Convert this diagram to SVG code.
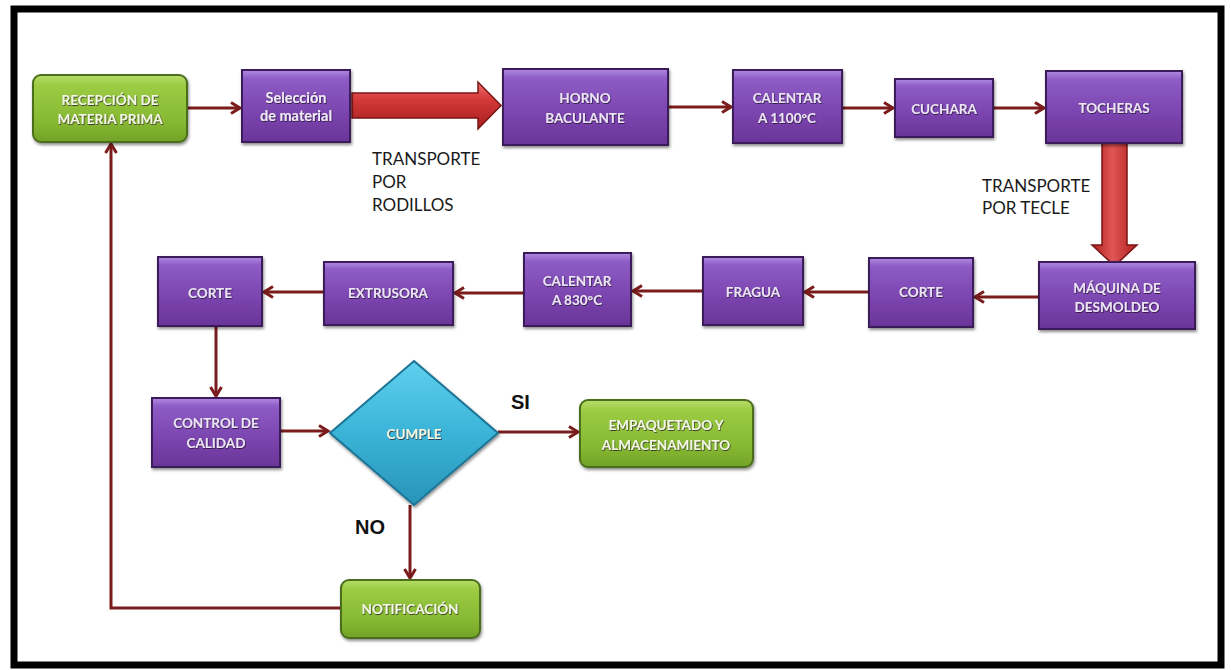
<svg xmlns="http://www.w3.org/2000/svg" width="1231" height="670" viewBox="0 0 1231 670">
<defs>
  <linearGradient id="gPurple" x1="0" y1="0" x2="0" y2="1">
    <stop offset="0" stop-color="#b08ae0"/>
    <stop offset="0.12" stop-color="#8e5cc6"/>
    <stop offset="0.6" stop-color="#7a44ae"/>
    <stop offset="1" stop-color="#6a3598"/>
  </linearGradient>
  <linearGradient id="gGreen" x1="0" y1="0" x2="0" y2="1">
    <stop offset="0" stop-color="#b8dc6a"/>
    <stop offset="0.15" stop-color="#9ccc44"/>
    <stop offset="0.7" stop-color="#86b832"/>
    <stop offset="1" stop-color="#72a228"/>
  </linearGradient>
  <linearGradient id="gCyan" x1="0" y1="0" x2="0" y2="1">
    <stop offset="0" stop-color="#5fd0ee"/>
    <stop offset="0.5" stop-color="#3ab4d8"/>
    <stop offset="1" stop-color="#2894b8"/>
  </linearGradient>
  <linearGradient id="gRedH" x1="0" y1="0" x2="0" y2="1">
    <stop offset="0" stop-color="#ee7070"/>
    <stop offset="0.35" stop-color="#d63a3a"/>
    <stop offset="1" stop-color="#a81e1e"/>
  </linearGradient>
  <linearGradient id="gRedV" x1="0" y1="0" x2="1" y2="0">
    <stop offset="0" stop-color="#b02020"/>
    <stop offset="0.45" stop-color="#e05555"/>
    <stop offset="1" stop-color="#b02020"/>
  </linearGradient>
  <filter id="sh" x="-10%" y="-10%" width="125%" height="130%">
    <feDropShadow dx="1" dy="2" stdDeviation="1.5" flood-color="#000" flood-opacity="0.45"/>
  </filter>
  <filter id="ts" x="-5%" y="-20%" width="110%" height="140%">
    <feDropShadow dx="0.6" dy="0.8" stdDeviation="0.4" flood-color="#1a0a2a" flood-opacity="0.9"/>
  </filter>
  <marker id="arr" markerWidth="14" markerHeight="14" refX="11" refY="7" orient="auto" markerUnits="userSpaceOnUse">
    <path d="M2,1.5 L11,7 L2,12.5" fill="none" stroke="#7a1c1c" stroke-width="3" stroke-linejoin="miter"/>
  </marker>
</defs>
<style>
  .p { fill: url(#gPurple); stroke: #3a1d58; stroke-width: 2; filter: url(#sh); }
  .g { fill: url(#gGreen); stroke: #4c6e1c; stroke-width: 2; filter: url(#sh); }
  .d { fill: url(#gCyan); stroke: #1c7494; stroke-width: 2; filter: url(#sh); }
  .t { font-family: Lato, "Liberation Sans", sans-serif; font-weight: bold; font-size: 13.5px; fill: #ece4f6; text-anchor: middle; filter: url(#ts); }
  .tg { font-family: Lato, "Liberation Sans", sans-serif; font-weight: bold; font-size: 13.5px; fill: #f2f7e2; text-anchor: middle; filter: url(#ts); }
  .ts { font-family: Lato, "Liberation Sans", sans-serif; font-weight: bold; font-size: 14.5px; fill: #f0eaf8; text-anchor: middle; filter: url(#ts); }
  .lab { font-family: Lato, "Liberation Sans", sans-serif; font-size: 17px; fill: #1a1a1a; }
  .yn { font-family: "Liberation Sans", Arial, sans-serif; font-weight: bold; font-size: 20px; fill: #111; }
  .c { fill: none; stroke: #7a1c1c; stroke-width: 3; }
  .big { stroke: #7a1515; stroke-width: 1.5; }
</style>
<rect x="14" y="9" width="1207" height="656" fill="#ffffff" stroke="#000000" stroke-width="7"/>

<g id="connectors">
  <line class="c" x1="187" y1="108" x2="240" y2="108" marker-end="url(#arr)"/>
  <polygon class="big" fill="url(#gRedH)" points="352,93 478,93 478,82 501,105.5 478,129 478,118 352,118"/>
  <line class="c" x1="668" y1="107" x2="731" y2="107" marker-end="url(#arr)"/>
  <line class="c" x1="842" y1="108" x2="893" y2="108" marker-end="url(#arr)"/>
  <line class="c" x1="993" y1="108" x2="1044" y2="108" marker-end="url(#arr)"/>
  <polygon class="big" fill="url(#gRedV)" points="1102,143 1127,143 1127,245 1137,245 1114.5,266 1092,245 1102,245"/>
  <line class="c" x1="1039" y1="297" x2="975" y2="297" marker-end="url(#arr)"/>
  <line class="c" x1="869" y1="292" x2="805" y2="292" marker-end="url(#arr)"/>
  <line class="c" x1="703" y1="291" x2="633" y2="291" marker-end="url(#arr)"/>
  <line class="c" x1="524" y1="293" x2="455" y2="293" marker-end="url(#arr)"/>
  <line class="c" x1="324" y1="292" x2="264" y2="292" marker-end="url(#arr)"/>
  <line class="c" x1="216" y1="327" x2="216" y2="396" marker-end="url(#arr)"/>
  <line class="c" x1="280" y1="431" x2="328" y2="431" marker-end="url(#arr)"/>
  <line class="c" x1="498" y1="432" x2="578" y2="432" marker-end="url(#arr)"/>
  <line class="c" x1="410" y1="505" x2="410" y2="578" marker-end="url(#arr)"/>
  <polyline class="c" points="341,608 111,608 111,144" marker-end="url(#arr)"/>
</g>

<g id="labels">
  <text class="lab" x="372" y="165">TRANSPORTE</text>
  <text class="lab" x="372" y="188">POR</text>
  <text class="lab" x="372" y="211">RODILLOS</text>
  <text class="lab" x="982" y="192">TRANSPORTE</text>
  <text class="lab" x="982" y="214">POR TECLE</text>
  <text class="yn" x="511" y="409">SI</text>
  <text class="yn" x="355" y="534">NO</text>
</g>

<g id="recepcion">
  <rect class="g" x="33" y="75" width="154" height="67" rx="8"/>
  <text class="tg" x="110" y="105">RECEPCIÓN DE</text>
  <text class="tg" x="110" y="124">MATERIA PRIMA</text>
</g>
<g id="seleccion">
  <rect class="p" x="242" y="70" width="108" height="72"/>
  <text class="ts" x="296" y="103">Selección</text>
  <text class="ts" x="296" y="121">de material</text>
</g>
<g id="horno">
  <rect class="p" x="503" y="69" width="165" height="76"/>
  <text class="t" x="585" y="103">HORNO</text>
  <text class="t" x="585" y="123">BACULANTE</text>
</g>
<g id="calentar1100">
  <rect class="p" x="733" y="70" width="109" height="73"/>
  <text class="t" x="787" y="103">CALENTAR</text>
  <text class="t" x="787" y="123">A 1100°C</text>
</g>
<g id="cuchara">
  <rect class="p" x="895" y="79" width="98" height="58"/>
  <text class="t" x="944" y="114">CUCHARA</text>
</g>
<g id="tocheras">
  <rect class="p" x="1046" y="71" width="136" height="72"/>
  <text class="t" x="1114" y="113">TOCHERAS</text>
</g>
<g id="desmoldeo">
  <rect class="p" x="1039" y="262" width="156" height="67"/>
  <text class="t" x="1117" y="293">MÁQUINA DE</text>
  <text class="t" x="1117" y="312">DESMOLDEO</text>
</g>
<g id="corte2">
  <rect class="p" x="869" y="258" width="104" height="69"/>
  <text class="t" x="921" y="297">CORTE</text>
</g>
<g id="fragua">
  <rect class="p" x="703" y="257" width="100" height="68"/>
  <text class="t" x="753" y="297">FRAGUA</text>
</g>
<g id="calentar830">
  <rect class="p" x="524" y="253" width="107" height="73"/>
  <text class="t" x="577" y="286">CALENTAR</text>
  <text class="t" x="577" y="305">A 830°C</text>
</g>
<g id="extrusora">
  <rect class="p" x="324" y="262" width="129" height="63"/>
  <text class="t" x="388" y="298">EXTRUSORA</text>
</g>
<g id="corte1">
  <rect class="p" x="158" y="257" width="104" height="69"/>
  <text class="t" x="210" y="298">CORTE</text>
</g>
<g id="control">
  <rect class="p" x="152" y="398" width="128" height="69"/>
  <text class="t" x="216" y="428">CONTROL DE</text>
  <text class="t" x="216" y="448">CALIDAD</text>
</g>
<g id="cumple">
  <polygon class="d" points="414,361 498,433 414,505 330,433"/>
  <text class="tg" x="414" y="439">CUMPLE</text>
</g>
<g id="empaquetado">
  <rect class="g" x="580" y="400" width="173" height="67" rx="8"/>
  <text class="tg" x="666" y="430">EMPAQUETADO Y</text>
  <text class="tg" x="666" y="450">ALMACENAMIENTO</text>
</g>
<g id="notificacion">
  <rect class="g" x="341" y="580" width="139" height="58" rx="8"/>
  <text class="tg" x="410" y="614">NOTIFICACIÓN</text>
</g>
</svg>
